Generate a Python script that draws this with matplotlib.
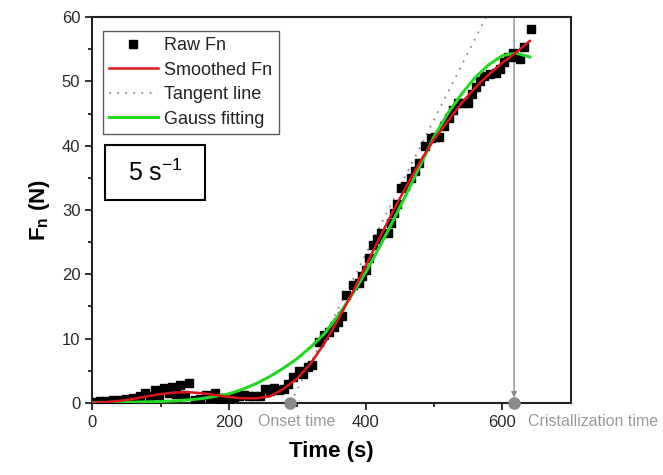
import matplotlib
matplotlib.use("Agg")
import matplotlib.pyplot as plt
from matplotlib.lines import Line2D
from matplotlib.patches import Rectangle

plt.rcParams["font.family"] = ["Liberation Sans", "DejaVu Sans"]
plt.rcParams["mathtext.fontset"] = "custom"
plt.rcParams["mathtext.rm"] = "Liberation Sans"
plt.rcParams["mathtext.it"] = "Liberation Sans:italic"
plt.rcParams["mathtext.bf"] = "Liberation Sans:bold"

# ---- data ----
raw_t = [5, 12, 20, 30, 40, 50, 60, 70, 78, 85, 92, 98, 105, 112, 117, 123, 129, 136, 142,
         150, 158, 166, 173, 180, 186, 193, 200, 208, 215, 222, 230, 237, 245, 253, 260, 266,
         273, 280, 287, 293, 302, 308, 315, 322, 331, 339, 346, 353, 360, 366, 371, 381, 390,
         395, 400, 405, 410, 416, 422, 432, 437, 441, 446, 451, 458, 466, 472, 478, 486, 495,
         501, 507, 515, 522, 528, 535, 542, 549, 555, 561, 567, 573, 582, 590, 596, 602, 608,
         615, 620, 625, 632, 642]
raw_f = [0.2, 0.3, 0.3, 0.4, 0.5, 0.6, 0.8, 1.0, 1.5, 1.0, 2.0, 1.2, 2.3, 1.5, 2.5, 1.4, 2.8, 1.2, 3.1,
         0.5, 0.6, 1.2, 0.8, 1.5, 0.5, 0.8, 0.5, 0.9, 1.0, 1.2, 1.0, 1.0, 1.0, 2.1, 1.8, 2.3,
         2.0, 2.1, 3.0, 4.0, 5.0, 4.5, 5.5, 5.9, 9.5, 10.5, 11.0, 11.8, 12.6, 13.5, 16.8, 18.4, 18.7,
         19.8, 20.7, 22.5, 24.6, 25.5, 26.4, 26.4, 28.0, 29.5, 31.0, 33.4, 33.8, 35.0, 36.0, 37.3, 40.0, 41.2,
         41.3, 41.4, 43.0, 44.3, 45.5, 46.7, 46.7, 46.7, 48.0, 49.1, 50.0, 50.9, 51.2, 51.3, 52.0, 53.0, 53.8,
         54.4, 53.8, 53.5, 55.4, 58.2]

curve_t = [0, 20, 40, 60, 80, 100, 120, 140, 160, 180, 200, 220, 240, 260, 280, 300, 320,
           340, 360, 380, 400, 420, 440, 460, 480, 500, 520, 540, 560, 580, 600, 620, 640]
smooth_f = [0.0, 0.1, 0.3, 0.6, 1.0, 1.35, 1.6, 1.65, 1.5, 1.2, 0.9, 0.7, 0.7, 1.0, 2.2, 3.8, 6.2,
            9.3, 13.0, 17.0, 21.3, 25.6, 29.8, 33.8, 37.6, 41.0, 43.8, 46.6, 49.0, 51.1, 52.9, 54.5, 56.3]
gauss_f = [0.05, 0.06, 0.08, 0.1, 0.14, 0.2, 0.3, 0.45, 0.65, 1.0, 1.4, 2.1, 3.0, 4.1, 5.4, 6.9, 8.7,
           10.8, 13.6, 16.8, 20.3, 24.2, 28.3, 32.6, 37.0, 41.4, 45.0, 48.0, 50.6, 52.6, 54.0, 54.4, 53.8]

tangent_t = [290, 576]
tangent_f = [0, 60]

onset_time = 290
cryst_time = 617

x_ticks = [0, 200, 400, 600]
y_ticks = [0, 10, 20, 30, 40, 50, 60]

# ---- figure ----
fig = plt.figure(figsize=(6.63, 4.75), dpi=100)
ax = fig.add_axes([0.139, 0.152, 0.722, 0.812])

red = "#d9161c"
green = "#22d822"
grey = "#8c8c8c"

ax.plot(raw_t, raw_f, linestyle="none", marker="s", ms=5.5, color="black", zorder=3)
ax.plot(tangent_t, tangent_f, linestyle=(0, (1, 3.5)), color=grey, lw=1.3, zorder=2)
ax.plot(curve_t, gauss_f, color=green, lw=2.2, zorder=4)
ax.plot(curve_t, smooth_f, color=red, lw=1.8, zorder=5)

# crystallization arrow
ax.annotate("", xy=(cryst_time, 0.8), xytext=(cryst_time, 60),
            arrowprops=dict(arrowstyle="-|>", color=grey, lw=1.0, mutation_scale=8,
                            shrinkA=0, shrinkB=0), zorder=2)
ax.plot([onset_time, cryst_time], [0, 0], linestyle="none", marker="o", ms=8,
        color="#8a8a8a", clip_on=False, zorder=6)

ax.text(onset_time + 9, -1.8, "Onset time", color="#9a9a9a", fontsize=11.5,
        ha="center", va="top", clip_on=False)
ax.text(637, -1.8, "Cristallization time", color="#9a9a9a", fontsize=11.5,
        ha="left", va="top", clip_on=False)

ax.set_xlim(0, 700)
ax.set_ylim(0, 60)
ax.set_xticks(x_ticks)
ax.set_xticks([100, 300, 500], minor=True)
ax.set_yticks(y_ticks)
ax.set_yticks([5, 15, 25, 35, 45, 55], minor=True)
ax.tick_params(which="both", direction="out", top=False, right=False, colors="#222222",
               labelcolor="#2a2a2a", labelsize=12, width=1.3)
ax.tick_params(which="major", length=5)
ax.tick_params(which="minor", length=3)
for s in ax.spines.values():
    s.set_linewidth(1.5)
    s.set_color("#222222")

ax.set_xlabel("Time (s)", fontsize=16, fontweight="bold", labelpad=8)
ax.set_ylabel(r"$\mathbf{F_n}$ (N)", fontsize=16, fontweight="bold", labelpad=7)

handles = [
    Line2D([], [], linestyle="none", marker="s", ms=5.5, color="black"),
    Line2D([], [], color=red, lw=1.8),
    Line2D([], [], color=grey, lw=1.3, linestyle=(0, (1, 3.5))),
    Line2D([], [], color=green, lw=2.2),
]
labels = ["Raw Fn", "Smoothed Fn", "Tangent line", "Gauss fitting"]
leg = ax.legend(handles, labels, loc="upper left", bbox_to_anchor=(0.022, 0.965),
                fontsize=13, frameon=True, fancybox=False, edgecolor="#333333",
                handlelength=2.7, handletextpad=0.35, labelspacing=0.42,
                borderpad=0.35, borderaxespad=0.0)
leg.get_frame().set_linewidth(1.0)
for t in leg.get_texts():
    t.set_color("#222222")

ax.add_patch(Rectangle((0.027, 0.526), 0.209, 0.142, transform=ax.transAxes,
                       facecolor="white", edgecolor="black", lw=1.5, zorder=7))
ax.text(0.131, 0.597, r"5 s$^{-1}$", transform=ax.transAxes, fontsize=18,
        ha="center", va="center", zorder=8)

fig.savefig("out.png", dpi=100)
